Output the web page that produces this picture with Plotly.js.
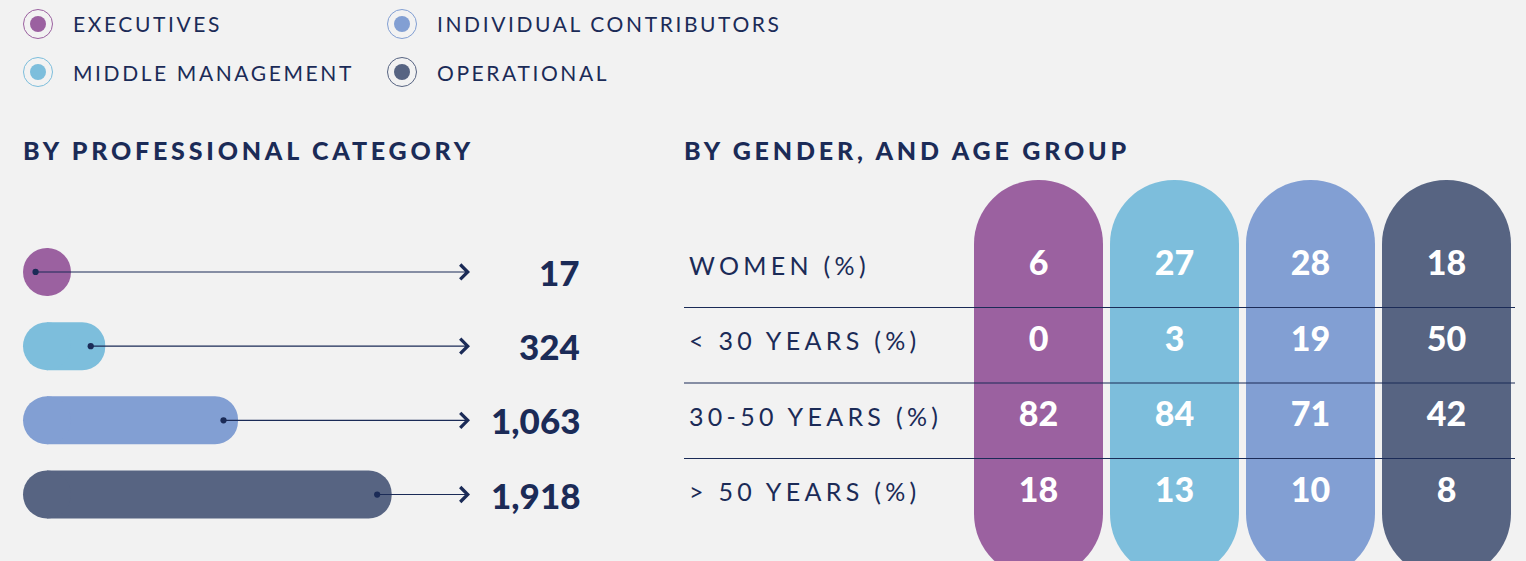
<!DOCTYPE html>
<html>
<head>
<meta charset="utf-8">
<script src="https://cdn.plot.ly/plotly-3.0.1.min.js"></script>
<style>
  html, body { margin: 0; padding: 0; background: #f2f2f2; }
  #chart { width: 1526px; height: 561px; }
</style>
</head>
<body>
<div id="chart"></div>
<script>
// ---------------- DATA ----------------
const categories = ['Executives', 'Middle Management', 'Individual Contributors', 'Operational'];
const legendLabels = ['EXECUTIVES', 'MIDDLE MANAGEMENT', 'INDIVIDUAL CONTRIBUTORS', 'OPERATIONAL'];
const headcount = [17, 324, 1063, 1918];
const rowLabels = ['WOMEN (%)', '&lt; 30 YEARS (%)', '30-50 YEARS (%)', '&gt; 50 YEARS (%)'];
const womenPct = [6, 27, 28, 18];
const under30Pct = [0, 3, 19, 50];
const age30to50Pct = [82, 84, 71, 42];
const over50Pct = [18, 13, 10, 8];
const panelTitles = ['BY PROFESSIONAL CATEGORY', 'BY GENDER, AND AGE GROUP'];

// ---------------- STYLE ----------------
const colors = ['#9b61a0', '#7dbedc', '#829fd3', '#576482'];
const navy = '#1b2b57';
const W = 1526, H = 561;
const px = v => v / W;           // paper x from pixel
const py = v => 1 - v / H;       // paper y from pixel
const XMAX = 2443;               // left x range end (arrow tip)
const legendFont = {family: 'Lato, sans-serif', size: 21, color: navy, weight: 400};
const rowFont = {family: 'Lato, sans-serif', size: 25, color: navy, weight: 400};
const heavyFont = {family: 'Lato, sans-serif', size: 25, color: navy, weight: 900};

const rows = [womenPct, under30Pct, age30to50Pct, over50Pct];
const ROW0 = 266.5, ROWH = 75.5;  // pixel centre of first row, row height
const pillTop = (180 - ROW0) / ROWH, pillBottom = (578 - ROW0) / ROWH;

const traces = [];
// left panel: pill bars
traces.push({
  type: 'bar', orientation: 'h', x: headcount, y: categories,
  xaxis: 'x', yaxis: 'y', width: 0.647,
  marker: {color: colors, cornerradius: '50%', line: {width: 0}},
  hoverinfo: 'skip', showlegend: false
});
// left panel: rounded start caps
traces.push({
  type: 'scatter', mode: 'markers', x: categories.map(() => 0), y: categories,
  xaxis: 'x', yaxis: 'y', cliponaxis: false,
  marker: {size: 48, color: colors, line: {width: 0}},
  hoverinfo: 'skip', showlegend: false
});
// right panel: columns (pill shaped)
traces.push({
  type: 'bar', x: categories, y: categories.map(() => pillBottom - pillTop), base: pillTop,
  xaxis: 'x2', yaxis: 'y2', width: 0.9485,
  marker: {color: colors, cornerradius: '50%', line: {width: 0}},
  hoverinfo: 'skip', showlegend: false
});
// right panel: cell values
const cx = [], cy = [], ct = [];
rows.forEach((r, ri) => r.forEach((v, ci) => { cx.push(categories[ci]); cy.push(ri); ct.push(String(v)); }));
traces.push({
  type: 'scatter', mode: 'text', x: cx, y: cy, text: ct,
  xaxis: 'x2', yaxis: 'y2', textposition: 'middle center', cliponaxis: false,
  textfont: {family: 'Lato, sans-serif', size: 34, color: '#ffffff', weight: 900},
  hoverinfo: 'skip', showlegend: false
});

const annotations = [];
const shapes = [];

// legend (2x2)
const legendPos = [[38, 24], [38, 72], [402, 24], [402, 72]];
legendLabels.forEach((lab, i) => {
  const [lx, ly] = legendPos[i];
  shapes.push({type: 'circle', xref: 'paper', yref: 'paper', xsizemode: 'pixel', ysizemode: 'pixel',
    xanchor: px(lx), yanchor: py(ly), x0: -14.5, x1: 14.5, y0: -14.5, y1: 14.5,
    line: {color: colors[i], width: 1}, fillcolor: 'rgba(0,0,0,0)'});
  shapes.push({type: 'circle', xref: 'paper', yref: 'paper', xsizemode: 'pixel', ysizemode: 'pixel',
    xanchor: px(lx), yanchor: py(ly), x0: -8, x1: 8, y0: -8, y1: 8,
    line: {width: 0}, fillcolor: colors[i]});
  annotations.push({xref: 'paper', yref: 'paper', x: px(lx + 33), y: py(ly), xanchor: 'left', yanchor: 'middle',
    showarrow: false, font: legendFont, text: '<span style="letter-spacing:2.6px">' + lab + '</span>'});
});

// panel titles
[[21, 150], [682, 150]].forEach(([tx, ty], i) => {
  annotations.push({xref: 'paper', yref: 'paper', x: px(tx), y: py(ty), xanchor: 'left', yanchor: 'middle',
    showarrow: false, font: heavyFont, text: '<span style="letter-spacing:3.8px">' + panelTitles[i] + '</span>'});
});

// left panel connectors + values
headcount.forEach((v, i) => {
  annotations.push({xref: 'x', yref: 'y', axref: 'x', ayref: 'y', x: XMAX, y: i, ax: v, ay: i,
    text: '', showarrow: true, arrowside: 'end+start', arrowhead: 4, startarrowhead: 6,
    arrowsize: 2.4, startarrowsize: 1.3, arrowwidth: 1.2, arrowcolor: navy, xshift: -16});
  annotations.push({xref: 'paper', yref: 'y', x: px(582), y: i, xanchor: 'right', yanchor: 'middle',
    showarrow: false, text: v.toLocaleString('en-US'),
    font: {family: 'Lato, sans-serif', size: 35, color: navy, weight: 900}});
});

// right panel row labels and separators
rowLabels.forEach((lab, i) => {
  annotations.push({xref: 'paper', yref: 'y2', x: px(687), y: i, xanchor: 'left', yanchor: 'middle', yshift: 2,
    showarrow: false, font: rowFont, text: '<span style="letter-spacing:4.3px">' + lab + '</span>'});
  if (i < rowLabels.length - 1) {
    const sep = i + (307 - ROW0 + 0.5) / ROWH;
    shapes.push({type: 'line', xref: 'paper', yref: 'y2', x0: px(684), x1: px(1515), y0: sep, y1: sep,
      line: {color: navy, width: 1.1}, layer: 'above'});
  }
});

const layout = {
  width: W, height: H,
  margin: {l: 0, r: 0, t: 0, b: 0, pad: 0},
  paper_bgcolor: '#f2f2f2', plot_bgcolor: 'rgba(0,0,0,0)',
  barmode: 'overlay', showlegend: false,
  xaxis: {domain: [px(47), px(486)], range: [0, XMAX], visible: false, fixedrange: true},
  yaxis: {domain: [0.0524, 0.5813], type: 'category', categoryarray: categories, categoryorder: 'array',
          range: [3.5, -0.5], visible: false, fixedrange: true},
  xaxis2: {domain: [px(970.5), px(1514.5)], type: 'category', categoryarray: categories, categoryorder: 'array',
           range: [-0.5, 3.5], visible: false, anchor: 'y2', fixedrange: true},
  yaxis2: {domain: [0, 1], range: [(H - ROW0) / ROWH, -ROW0 / ROWH], visible: false, anchor: 'x2', fixedrange: true},
  annotations: annotations,
  shapes: shapes,
  font: {family: 'Lato, sans-serif', color: navy}
};

Plotly.newPlot('chart', traces, layout, {displayModeBar: false, staticPlot: true});
</script>
</body>
</html>
